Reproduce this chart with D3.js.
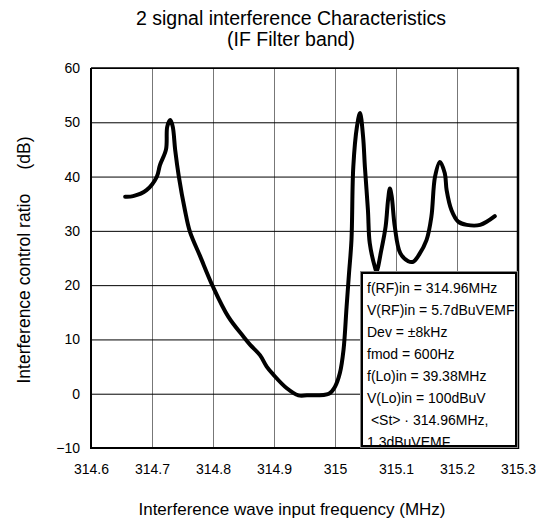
<!DOCTYPE html>
<html><head><meta charset="utf-8">
<script src="https://cdn.jsdelivr.net/npm/d3@7"></script>
<style>body{margin:0;background:#fff}svg{display:block}</style>
</head><body>
<svg id="c" width="536" height="521"></svg>
<script>
const titleLines = ["2 signal interference Characteristics", "(IF Filter band)"];
const xTitle = "Interference wave input frequency (MHz)";
const yTitle = "Interference control ratio     (dB)";
const xTicks = [314.6, 314.7, 314.8, 314.9, 315, 315.1, 315.2, 315.3];
const yTicks = [-10, 0, 10, 20, 30, 40, 50, 60];
const freq = [314.656,314.669,314.691,314.708,314.713,314.723,314.725,314.730,314.734,314.738,314.744,314.754,314.762,314.779,314.800,314.825,314.850,314.861,314.877,314.888,314.899,314.921,314.940,314.954,314.990,315.000,315.008,315.014,315.019,315.023,315.027,315.030,315.036,315.041,315.046,315.049,315.054,315.057,315.066,315.068,315.076,315.083,315.087,315.090,315.093,315.098,315.107,315.120,315.128,315.136,315.150,315.158,315.164,315.172,315.180,315.183,315.191,315.202,315.216,315.238,315.262];
const ratio = [36.3,36.4,37.5,40.0,42.1,45.0,49.2,50.4,49.2,44.9,40.0,33.8,29.9,25.3,19.7,14.2,10.5,9.0,7.1,5.0,3.5,1.0,-0.3,-0.3,0.0,1.3,3.8,8.1,16.0,22.2,28.3,41.8,49.2,51.7,47.4,41.8,33.8,27.7,23.1,22.5,26.5,30.8,35.7,37.8,36.3,30.8,25.9,24.4,24.3,25.3,28.3,32.6,40.0,42.7,40.6,37.5,33.8,31.7,31.1,31.1,32.7];
const legendLines = ["f(RF)in = 314.96MHz","V(RF)in = 5.7dBuVEMF","Dev = \u00b18kHz","fmod = 600Hz","f(Lo)in = 39.38MHz","V(Lo)in = 100dBuV"," <St> \u00b7 314.96MHz,","1.3dBuVEMF"];

const svg = d3.select("#c");
const font = "'Liberation Sans', Arial, sans-serif";
const L = 91, R = 518, T = 68, B = 448;
const x = d3.scaleLinear().domain([314.6, 315.3]).range([L, R]);
const y = d3.scaleLinear().domain([-10, 60]).range([B, T]);

// title
svg.append("g").selectAll("text").data(titleLines).join("text")
  .attr("x", 291).attr("y", (d,i) => 25 + i*21)
  .attr("text-anchor","middle").attr("font-family",font).attr("font-size",19.5)
  .text(d => d);

// grid
svg.append("g").call(d3.axisBottom(x).tickValues(xTicks).tickSize(-(B-T)).tickFormat(""))
  .attr("transform",`translate(0,${B})`)
  .call(g => g.select(".domain").remove())
  .call(g => g.selectAll("line").attr("stroke","#777").attr("stroke-width",1));
svg.append("g").call(d3.axisLeft(y).tickValues(yTicks).tickSize(-(R-L)).tickFormat(""))
  .attr("transform",`translate(${L},0)`)
  .call(g => g.select(".domain").remove())
  .call(g => g.selectAll("line").attr("stroke","#000").attr("stroke-width",1));

// tick labels
svg.append("g").attr("transform",`translate(0,${B})`)
  .call(d3.axisBottom(x).tickValues(xTicks).tickSize(0).tickPadding(16).tickFormat(d => d3.format("")(d)))
  .call(g => g.select(".domain").remove())
  .call(g => g.selectAll("text").attr("font-family",font).attr("font-size",14).attr("fill","#000"));
svg.append("g").attr("transform",`translate(${L},0)`)
  .call(d3.axisLeft(y).tickValues(yTicks).tickSize(0).tickPadding(11))
  .call(g => g.select(".domain").remove())
  .call(g => g.selectAll("text").attr("font-family",font).attr("font-size",14).attr("fill","#000"));

// curve
const data = freq.map((f,i) => [f, ratio[i]]);
svg.append("path").datum(data)
  .attr("d", d3.line().x(d => x(d[0])).y(d => y(d[1])).curve(d3.curveCatmullRom.alpha(0.5)))
  .attr("fill","none").attr("stroke","#000").attr("stroke-width",4)
  .attr("stroke-linejoin","round").attr("stroke-linecap","round");

// frame
svg.append("line").attr("x1",L).attr("x2",R).attr("y1",T).attr("y2",T).attr("stroke","#000").attr("stroke-width",1.5);
svg.append("line").attr("x1",L).attr("x2",L).attr("y1",T).attr("y2",B+1).attr("stroke","#000").attr("stroke-width",2);
svg.append("line").attr("x1",L-1).attr("x2",R+1).attr("y1",B).attr("y2",B).attr("stroke","#000").attr("stroke-width",2);
svg.append("line").attr("x1",R).attr("x2",R).attr("y1",T-0.75).attr("y2",B+1).attr("stroke","#000").attr("stroke-width",2.5);

// legend box
const bx = 362, by = 273, bw = 154, bh = 173;
svg.append("rect").attr("x",bx-1.5).attr("y",by-1.5).attr("width",bw+3).attr("height",bh+3)
  .attr("fill","none").attr("stroke","#888").attr("stroke-width",1);
svg.append("rect").attr("x",bx).attr("y",by).attr("width",bw).attr("height",bh)
  .attr("fill","#fff").attr("stroke","#000").attr("stroke-width",2);
svg.append("clipPath").attr("id","lc").append("rect")
  .attr("x",bx+1).attr("y",by+1).attr("width",bw-2).attr("height",bh-2);
svg.append("g").attr("clip-path","url(#lc)").selectAll("text").data(legendLines).join("text")
  .attr("x", bx+5).attr("y",(d,i) => by + 20 + i*22)
  .attr("font-family",font).attr("font-size",14).style("white-space","pre")
  .text(d => d);

// axis titles
svg.append("text").attr("x",292).attr("y",515).attr("text-anchor","middle")
  .attr("font-family",font).attr("font-size",17).text(xTitle);
svg.append("text").attr("transform","translate(30,260) rotate(-90)").attr("text-anchor","middle")
  .attr("font-family",font).attr("font-size",17.5).style("white-space","pre").text(yTitle);
</script>
</body></html>
